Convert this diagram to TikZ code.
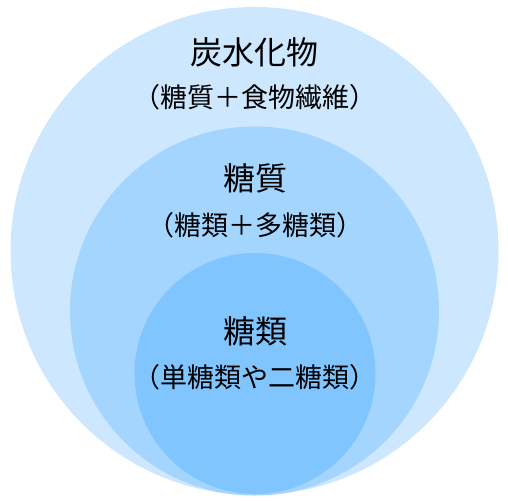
\documentclass[tikz,border=0pt]{standalone}
\usepackage{fontspec}
\setmainfont{Noto Sans CJK JP}
\definecolor{outerc}{RGB}{204,231,254}
\definecolor{midc}{RGB}{163,213,255}
\definecolor{innerc}{RGB}{129,197,255}
\begin{document}
\begin{tikzpicture}[x=1pt,y=-1pt,
  titlet/.style={inner sep=0pt,font=\fontsize{32}{36}\selectfont},
  subt/.style={inner sep=0pt,font=\fontsize{27}{31}\selectfont}]
\useasboundingbox (0,0) rectangle (508,500);
\fill[outerc] (254.5,251) circle (244);
\fill[midc] (254.5,311) circle (184.5);
\fill[innerc] (255,373.5) circle (120.5);
\node[titlet] (t1) at (254,52) {炭水化物};
\node[subt] (s1) at (255,97) {（糖質＋食物繊維）};
\node[titlet] (t2) at (255,178) {糖質};
\node[subt] (s2) at (255,225) {（糖類＋多糖類）};
\node[titlet] (t3) at (255,331) {糖類};
\node[subt] (s3) at (255,377) {（単糖類や二糖類）};
\end{tikzpicture}
\end{document}
